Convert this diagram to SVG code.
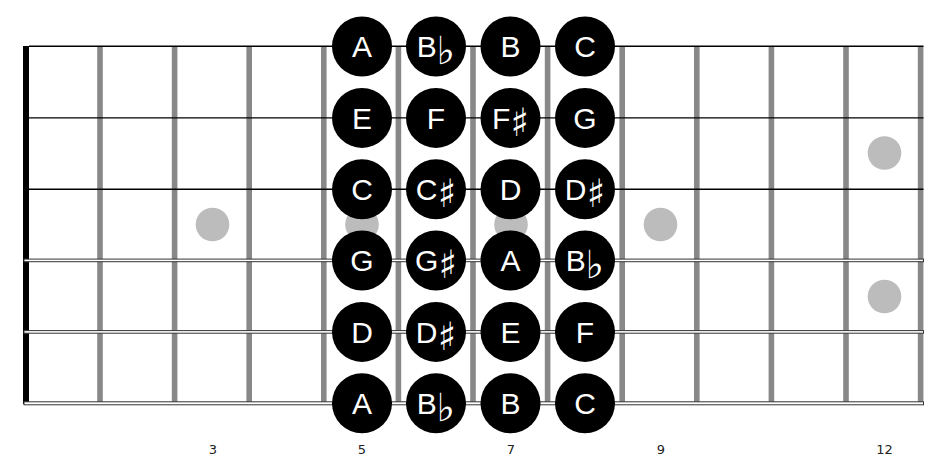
<svg xmlns="http://www.w3.org/2000/svg" width="937" height="465" viewBox="0 0 937 465">
  <style>
    .fret { fill: #888888; }
    .nut { fill: #000000; }
    .plain { stroke: #000000; stroke-width: 1.4; fill: none; }
    .wound { fill: #ffffff; stroke: #333333; stroke-width: 1; }
    .inlay { fill: #bcbcbc; }
    .note circle { fill: #000000; }
    .note text { fill: #ffffff; font-family: "Liberation Sans", Arial, sans-serif; font-size: 30px; text-anchor: middle; }
    .acc { font-family: "DejaVu Sans", sans-serif; font-size: 39px; }
    .num { fill: #222222; font-family: "DejaVu Sans", Verdana, sans-serif; font-size: 13px; text-anchor: middle; }
  </style>
  <rect width="937" height="465" fill="#ffffff"/>

  <g id="frets">
    <rect class="fret" x="97.2" y="46" width="5.6" height="358"/>
    <rect class="fret" x="171.8" y="46" width="5.6" height="358"/>
    <rect class="fret" x="246.4" y="46" width="5.6" height="358"/>
    <rect class="fret" x="321" y="46" width="5.6" height="358"/>
    <rect class="fret" x="395.6" y="46" width="5.6" height="358"/>
    <rect class="fret" x="470.2" y="46" width="5.6" height="358"/>
    <rect class="fret" x="544.8" y="46" width="5.6" height="358"/>
    <rect class="fret" x="619.4" y="46" width="5.6" height="358"/>
    <rect class="fret" x="694" y="46" width="5.6" height="358"/>
    <rect class="fret" x="768.6" y="46" width="5.6" height="358"/>
    <rect class="fret" x="843.2" y="46" width="5.6" height="358"/>
    <rect class="fret" x="917.8" y="46" width="5.6" height="358"/>
  </g>

  <g id="inlays">
    <circle class="inlay" cx="212.5" cy="224.5" r="16.8"/>
    <circle class="inlay" cx="362" cy="224.5" r="16.8"/>
    <circle class="inlay" cx="511" cy="224.5" r="16.8"/>
    <circle class="inlay" cx="660.5" cy="224.5" r="16.8"/>
    <circle class="inlay" cx="884.5" cy="153" r="16.8"/>
    <circle class="inlay" cx="884.5" cy="296.5" r="16.8"/>
  </g>

  <g id="strings">
    <line class="plain" x1="29" y1="46.3" x2="923.5" y2="46.3"/>
    <line class="plain" x1="29" y1="117.9" x2="923.5" y2="117.9"/>
    <line class="plain" x1="29" y1="189.2" x2="923.5" y2="189.2"/>
    <rect id="nut" class="nut" x="23" y="46" width="6" height="358"/>
    <rect class="wound" x="24" y="259.1" width="899.5" height="2.6"/>
    <rect class="wound" x="24" y="330.6" width="899.5" height="2.6"/>
    <rect class="wound" x="24" y="401.8" width="899.5" height="3"/>
  </g>

  <g id="connectors"/>

  <g id="notes">
    <g id="n-1-5" class="note"><circle cx="362" cy="46.5" r="30"/><text x="362" y="57.3">A</text></g>
    <g id="n-1-6" class="note"><circle cx="436" cy="46.5" r="30"/><text x="436" y="57.3">B<tspan class="acc" dy="7">♭</tspan></text></g>
    <g id="n-1-7" class="note"><circle cx="510.5" cy="46.5" r="30"/><text x="510.5" y="57.3">B</text></g>
    <g id="n-1-8" class="note"><circle cx="585" cy="46.5" r="30"/><text x="585" y="57.3">C</text></g>

    <g id="n-2-5" class="note"><circle cx="362" cy="117.9" r="30"/><text x="362" y="128.7">E</text></g>
    <g id="n-2-6" class="note"><circle cx="436" cy="117.9" r="30"/><text x="436" y="128.7">F</text></g>
    <g id="n-2-7" class="note"><circle cx="510.5" cy="117.9" r="30"/><text x="510.5" y="128.7">F<tspan class="acc" dy="7">♯</tspan></text></g>
    <g id="n-2-8" class="note"><circle cx="585" cy="117.9" r="30"/><text x="585" y="128.7">G</text></g>

    <g id="n-3-5" class="note"><circle cx="362" cy="189.2" r="30"/><text x="362" y="200">C</text></g>
    <g id="n-3-6" class="note"><circle cx="436" cy="189.2" r="30"/><text x="436" y="200">C<tspan class="acc" dy="7">♯</tspan></text></g>
    <g id="n-3-7" class="note"><circle cx="510.5" cy="189.2" r="30"/><text x="510.5" y="200">D</text></g>
    <g id="n-3-8" class="note"><circle cx="585" cy="189.2" r="30"/><text x="585" y="200">D<tspan class="acc" dy="7">♯</tspan></text></g>

    <g id="n-4-5" class="note"><circle cx="362" cy="260.5" r="30"/><text x="362" y="271.3">G</text></g>
    <g id="n-4-6" class="note"><circle cx="436" cy="260.5" r="30"/><text x="436" y="271.3">G<tspan class="acc" dy="7">♯</tspan></text></g>
    <g id="n-4-7" class="note"><circle cx="510.5" cy="260.5" r="30"/><text x="510.5" y="271.3">A</text></g>
    <g id="n-4-8" class="note"><circle cx="585" cy="260.5" r="30"/><text x="585" y="271.3">B<tspan class="acc" dy="7">♭</tspan></text></g>

    <g id="n-5-5" class="note"><circle cx="362" cy="331.9" r="30"/><text x="362" y="342.7">D</text></g>
    <g id="n-5-6" class="note"><circle cx="436" cy="331.9" r="30"/><text x="436" y="342.7">D<tspan class="acc" dy="7">♯</tspan></text></g>
    <g id="n-5-7" class="note"><circle cx="510.5" cy="331.9" r="30"/><text x="510.5" y="342.7">E</text></g>
    <g id="n-5-8" class="note"><circle cx="585" cy="331.9" r="30"/><text x="585" y="342.7">F</text></g>

    <g id="n-6-5" class="note"><circle cx="362" cy="403.3" r="30"/><text x="362" y="414.1">A</text></g>
    <g id="n-6-6" class="note"><circle cx="436" cy="403.3" r="30"/><text x="436" y="414.1">B<tspan class="acc" dy="7">♭</tspan></text></g>
    <g id="n-6-7" class="note"><circle cx="510.5" cy="403.3" r="30"/><text x="510.5" y="414.1">B</text></g>
    <g id="n-6-8" class="note"><circle cx="585" cy="403.3" r="30"/><text x="585" y="414.1">C</text></g>
  </g>

  <g id="fret-numbers">
    <text class="num" x="213" y="454">3</text>
    <text class="num" x="362" y="454">5</text>
    <text class="num" x="511" y="454">7</text>
    <text class="num" x="661" y="454">9</text>
    <text class="num" x="884.5" y="454">12</text>
  </g>
</svg>
